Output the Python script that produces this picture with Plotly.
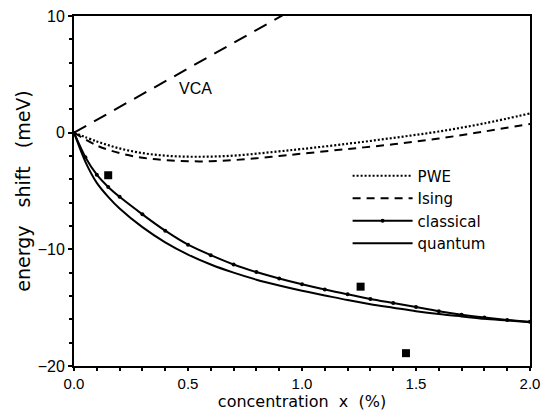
import plotly.graph_objects as go

# ---- data ----
x_vca = [0.0, 2.0]
y_vca = [0.0, 22.0]

x_pwe = [0, 0.1, 0.2, 0.3, 0.4, 0.5, 0.6, 0.7, 0.8, 0.9, 1.0, 1.2, 1.4, 1.6, 1.8, 2.0]
y_pwe = [0, -0.75, -1.35, -1.75, -1.97, -2.06, -2.05, -1.97, -1.8, -1.6, -1.4, -0.95, -0.45, 0.1, 0.8, 1.65]

x_ising = [0, 0.1, 0.2, 0.3, 0.4, 0.5, 0.6, 0.7, 0.8, 0.9, 1.0, 1.2, 1.4, 1.6, 1.8, 2.0]
y_ising = [0, -1.1, -1.75, -2.15, -2.35, -2.45, -2.45, -2.35, -2.2, -2.0, -1.8, -1.4, -1.0, -0.5, 0.1, 0.75]

x_cq = [0, 0.05, 0.1, 0.15, 0.2, 0.3, 0.4, 0.5, 0.6, 0.7, 0.8, 0.9, 1.0, 1.1, 1.2, 1.3,
        1.4, 1.5, 1.6, 1.7, 1.8, 1.9, 2.0]
y_classical = [0, -2.1, -3.6, -4.65, -5.5, -7.0, -8.4, -9.6, -10.5, -11.3, -11.95, -12.5, -13.0,
               -13.45, -13.85, -14.25, -14.6, -14.95, -15.3, -15.6, -15.85, -16.05, -16.2]
y_quantum = [0, -2.5, -4.3, -5.5, -6.5, -8.1, -9.4, -10.45, -11.3, -12.0, -12.6, -13.1, -13.55,
             -13.95, -14.35, -14.7, -15.0, -15.3, -15.55, -15.75, -15.95, -16.1, -16.25]

x_exp = [0.15, 1.257, 1.456]
y_exp = [-3.65, -13.2, -18.9]

x_ticks = [0.0, 0.5, 1.0, 1.5, 2.0]
x_ticklabels = ["0.0", "0.5", "1.0", "1.5", "2.0"]
y_ticks = [-20, -10, 0, 10]
y_ticklabels = ["\u221220", "\u221210", "0", "10"]

FONT = "Liberation Sans"
TFONT = "DejaVu Sans"

fig = go.Figure()
fig.add_trace(go.Scatter(x=x_vca, y=y_vca, mode="lines", showlegend=False,
                         line=dict(color="black", width=2, dash="14px,9px")))
fig.add_trace(go.Scatter(x=x_pwe, y=y_pwe, mode="lines", name="PWE", line_shape="spline",
                         line=dict(color="black", width=2.2, dash="2px,2px")))
fig.add_trace(go.Scatter(x=x_ising, y=y_ising, mode="lines", name="Ising", line_shape="spline",
                         line=dict(color="black", width=2, dash="8px,6px")))
fig.add_trace(go.Scatter(x=x_cq, y=y_classical, mode="lines+markers", name="classical",
                         line_shape="spline",
                         line=dict(color="black", width=2, smoothing=0.8),
                         marker=dict(color="black", size=4)))
fig.add_trace(go.Scatter(x=x_cq, y=y_quantum, mode="lines", name="quantum", line_shape="spline",
                         line=dict(color="black", width=2, smoothing=0.8)))
fig.add_trace(go.Scatter(x=x_exp, y=y_exp, mode="markers", showlegend=False,
                         marker=dict(color="black", size=8, symbol="square")))

fig.add_annotation(x=0.535, y=3.8, text="VCA", showarrow=False,
                   font=dict(family=FONT, size=16, color="black"))

axis_common = dict(showline=True, linecolor="black", linewidth=2, mirror=True,
                   showgrid=False, zeroline=False, ticks="outside", tickcolor="black",
                   tickwidth=2, automargin=False, ticklabeloverflow="allow")

fig.update_xaxes(range=[0, 2], tickvals=x_ticks, ticktext=x_ticklabels, ticklen=3,
                 tickfont=dict(family=FONT, size=15, color="black"),
                 minor=dict(dtick=0.1, ticks="outside", ticklen=3, tickwidth=2, tickcolor="black"),
                 title=dict(text="concentration  x  (%)", standoff=5,
                            font=dict(family=TFONT, size=16, color="black")),
                 **axis_common)
fig.update_yaxes(range=[-20, 10], tickvals=y_ticks, ticktext=y_ticklabels, ticklen=4,
                 tickfont=dict(family=FONT, size=16, color="black"),
                 minor=dict(dtick=2, ticks="outside", ticklen=3, tickwidth=2, tickcolor="black"),
                 title=dict(text="energy   shift   (meV)", standoff=2,
                            font=dict(family=TFONT, size=19, color="black")),
                 **axis_common)

fig.update_layout(
    width=541, height=412,
    margin=dict(l=74, r=11, t=16, b=46, autoexpand=False),
    paper_bgcolor="white", plot_bgcolor="white",
    legend=dict(x=0.6, y=0.59, xanchor="left", yanchor="top",
                bgcolor="rgba(0,0,0,0)", tracegroupgap=0, itemwidth=60,
                font=dict(family=TFONT, size=15, color="black")),
)

fig.write_html("out.html", config={"displayModeBar": False},
               post_script="document.body.style.margin='0px';document.body.style.padding='0px';")
